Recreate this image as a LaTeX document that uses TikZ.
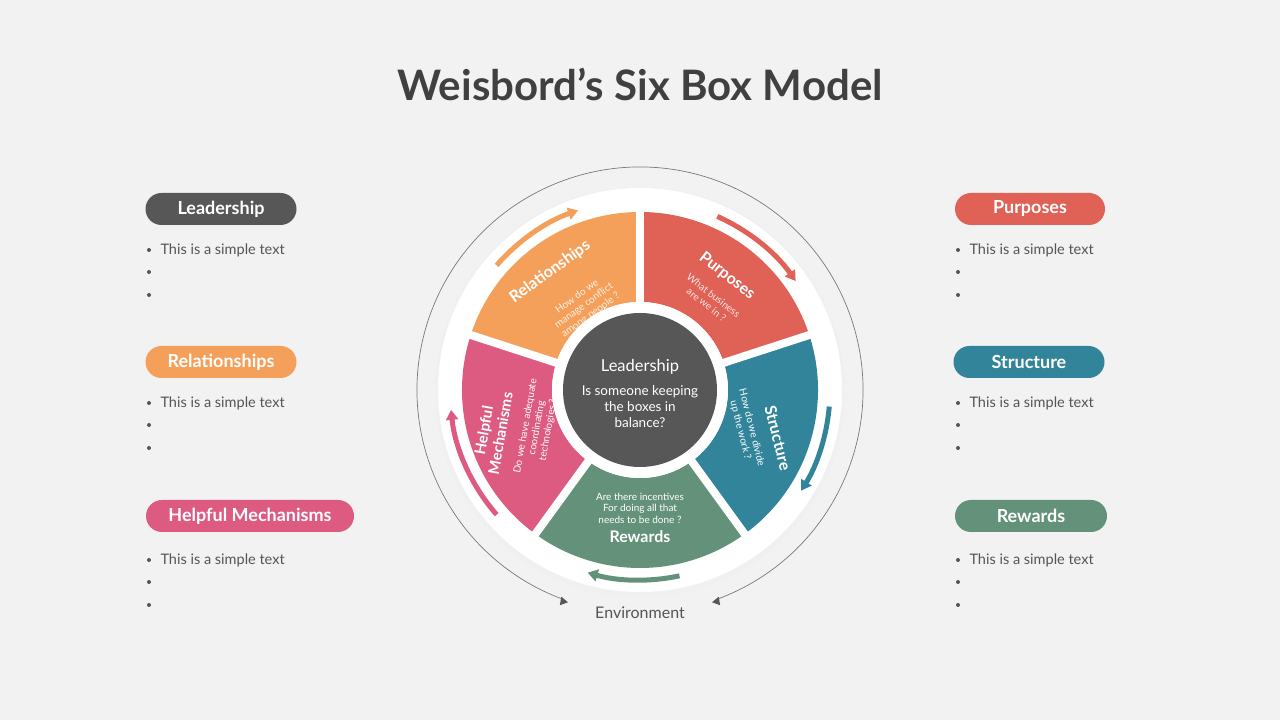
\documentclass[tikz,border=0pt]{standalone}
\usepackage{fontspec}
\setmainfont{Lato}
\usetikzlibrary{arrows.meta,shapes.geometric}
\definecolor{bg}{HTML}{F2F2F2}
\definecolor{cdark}{HTML}{575757}
\definecolor{ctitle}{HTML}{404040}
\definecolor{corange}{HTML}{F5A05A}
\definecolor{cred}{HTML}{E06155}
\definecolor{cteal}{HTML}{31849A}
\definecolor{cgreen}{HTML}{64917A}
\definecolor{cpink}{HTML}{DD5A80}
\definecolor{ctext}{HTML}{555555}
\tikzset{
 pill/.style={fill=#1,rounded corners=16pt,minimum height=32pt,text=white,font=\fontsize{18}{20}\selectfont\bfseries,inner xsep=12pt},
 btxt/.style={anchor=west,text=ctext,font=\fontsize{14.5}{16}\selectfont},
 dot/.style={circle,fill=ctext,inner sep=0pt,minimum size=4pt},
 seghead/.style={text=white,font=\fontsize{16}{18}\selectfont\bfseries},
 segsub/.style={text=white,font=\fontsize{10}{11.5}\selectfont,align=center,inner sep=1pt},
 carrow/.style={line width=5pt,-{Triangle[length=10pt,width=12pt]}},
 tri/.style={regular polygon,regular polygon sides=3,fill=cdark,inner sep=0pt,minimum size=10pt}
}
\begin{document}
\begin{tikzpicture}[x=1pt,y=1pt]
\fill[bg] (0,0) rectangle (1280,720);
\useasboundingbox (0,0) rectangle (1280,720);
\node[text=ctitle,font=\fontsize{42}{46}\selectfont\bfseries] (title) at (640,636) {Weisbord’s Six Box Model};
\coordinate (C) at (640,330);
% outer environment circle
\draw[cdark!80,line width=0.7pt] ([shift={(C)}]-70:223) arc (-70:250:223);
\node[tri,rotate=-20] (t1) at ([shift={(C)}]-70:225) {};
\node[tri,rotate=20] (t2) at ([shift={(C)}]-110:225) {};
\node[text=ctext,font=\fontsize{16}{18}\selectfont] (env) at (640,107) {Environment};
% white disk
\fill[black!6] ([shift={(0,-2)}]C) circle (205);
\fill[white] (C) circle (202);
% segments
\foreach \a/\b/\c in {90/162/corange,18/90/cred,-54/18/cteal,-126/-54/cgreen,162/234/cpink}{
 \fill[\c] ([shift={(C)}]\a:88) -- ([shift={(C)}]\a:178) arc (\a:\b:178) -- ([shift={(C)}]\b:88) arc (\b:\a:88) -- cycle;
}
\foreach \a in {90,18,-54,-126,162}{
 \draw[white,line width=8pt] (C) -- ([shift={(C)}]\a:185);
}
\fill[white] (C) circle (88);
\fill[cdark] (C) circle (77);
% arrows
\draw[carrow,corange] ([shift={(C)}]139:190) arc (139:109:190);
\draw[carrow,cred] ([shift={(C)}]66:190) arc (66:35:190);
\draw[carrow,cteal] ([shift={(C)}]-5:190) arc (-5:-32:190);
\draw[carrow,cgreen] ([shift={(C)}]-78:190) arc (-78:-106:190);
\draw[carrow,cpink] ([shift={(C)}]-139:190) arc (-139:-174:190);
% center
\node[text=white,font=\fontsize{16.5}{18}\selectfont] (lc) at (640,353) {Leadership};
\node[text=white,font=\fontsize{13.5}{16}\selectfont,align=center] (lsub) at (640,313) {Is someone keeping\\the boxes in\\balance?};
% segment texts
\node[seghead,rotate=36] (rel) at (550,448) {Relationships};
\node[segsub,rotate=36,text=white!85!corange] (relsub) at (584,414) {How do we\\manage conflict\\among people ?};
\node[seghead,rotate=-38] (pur) at (727,444) {Purposes};
\node[segsub,rotate=-38,text=white!85!cred] (pursub) at (710,420) {What business\\are we in ?};
\node[seghead,rotate=-76] (str) at (778,282) {Structure};
\node[segsub,rotate=-76] (strsub) at (746,291) {How do we divide\\up the work ?};
\node[seghead] (rew) at (640,183) {Rewards};
\node[segsub] (rewsub) at (640,212) {Are there incentives\\For doing all that\\needs to be done ?};
\node[seghead,rotate=80,align=center,font=\fontsize{15}{17}\selectfont\bfseries] (hel) at (492,288) {Helpful\\Mechanisms};
\node[segsub,rotate=80] (helsub) at (537,292) {Do we have adequate\\coordinating\\technologies ?};
% side labels
\node[pill=cdark,minimum width=151pt] (p1) at (221,511) {Leadership};
\node[pill=corange,minimum width=151pt] (p2) at (221,358) {Relationships};
\node[pill=cpink,minimum width=208pt] (p3) at (250,204) {Helpful Mechanisms};
\node[pill=cred,minimum width=150pt] (p4) at (1030,511) {Purposes};
\node[pill=cteal,minimum width=151pt] (p5) at (1029,358) {Structure};
\node[pill=cgreen,minimum width=152pt] (p6) at (1031,204) {Rewards};
\foreach \x/\y/\n in {149/470/a,149/317/b,149/160/c,958/470/d,958/317/e,958/160/f}{
 \node[dot] (d1\n) at (\x,\y) {};
 \node[dot] (d2\n) at (\x,\y-22) {};
 \node[dot] (d3\n) at (\x,\y-45) {};
 \node[btxt] (bt\n) at (\x+8,\y) {This is a simple text};
}
\end{tikzpicture}
\end{document}
